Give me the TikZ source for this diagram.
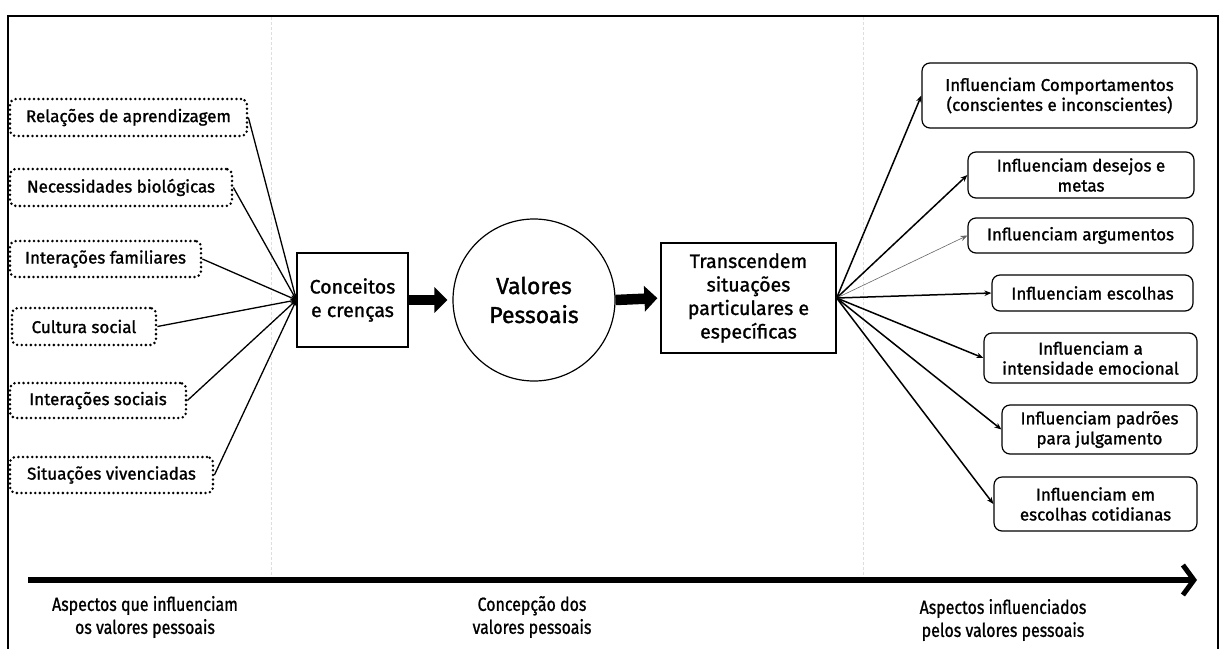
\documentclass[tikz,border=0pt]{standalone}
\usepackage{fontspec}
\setmainfont{Fira Sans}[FakeBold=1.3]
\newfontfamily\condfont{Fira Sans}[FakeStretch=0.84, FakeBold=1.0]
\usetikzlibrary{arrows.meta}

\tikzset{
  srcbox/.style={draw, line width=2.8pt, dash pattern=on 0pt off 4.6pt,
    line cap=round, rounded corners=6pt, inner sep=0pt, align=center,
    font=\fontsize{17}{20}\selectfont},
  midbox/.style={draw, line width=1.2pt, inner sep=0pt, align=center,
    font=\fontsize{19.5}{23.5}\selectfont},
  outbox/.style={draw, line width=1.2pt, rounded corners=8pt, inner sep=0pt,
    align=center, font=\fontsize{17}{20}\selectfont},
  feed/.style={line width=1.3pt, -{Stealth[length=6pt,width=5pt]}},
  fan/.style={line width=1.5pt, -{Stealth[length=7pt,width=5.5pt]}},
  fanthin/.style={line width=0.6pt, draw=gray!80!black, -{Stealth[length=7pt,width=5.5pt]}},
  blockarrow/.style={line width=10.5pt, -{Triangle[length=13pt,width=25pt]}},
  guide/.style={draw=black!13, line width=0.6pt, dash pattern=on 3pt off 2pt},
  axislabel/.style={align=center, font=\condfont\fontsize{19}{23}\selectfont},
}

\begin{document}
\begin{tikzpicture}[x=1pt, y=-1pt]
\useasboundingbox (0,0) rectangle (1222,648);

% frame and column guides
\coordinate (fTL) at (8,16);
\coordinate (fTR) at (1218,16);
\coordinate (fBL) at (8,660);
\coordinate (fBR) at (1218,660);
\draw[guide] (271,17) -- (271,575);
\draw[guide] (863,17) -- (863,575);
\draw[line width=2pt] (fBL) -- (fTL) -- (fTR) -- (fBR);

% sources
\node[srcbox, minimum width=237pt, minimum height=37pt] (s1) at (128.5,117.5) {Relações de aprendizagem};
\node[srcbox, minimum width=222pt, minimum height=37pt] (s2) at (121,187.5) {Necessidades biológicas};
\node[srcbox, minimum width=191pt, minimum height=36pt] (s3) at (105.5,259) {Interações familiares};
\node[srcbox, minimum width=144pt, minimum height=37pt] (s4) at (84,326.5) {Cultura social};
\node[srcbox, minimum width=176pt, minimum height=35pt] (s5) at (98,400.5) {Interações sociais};
\node[srcbox, minimum width=203pt, minimum height=36pt] (s6) at (111.5,475) {Situações vivenciadas};

% centre chain
\node[midbox, minimum width=111pt, minimum height=94pt] (cc) at (352.5,300) {Conceitos\\e crenças};
\node[draw, line width=1.2pt, circle, minimum size=162pt, inner sep=0pt, align=center,
      font=\fontsize{23}{29}\selectfont] (vp) at (534,300) {Valores\\Pessoais};
\node[midbox, minimum width=175pt, minimum height=110pt] (tr) at (748.5,298)
  {Transcendem\\situações\\particulares e\\específicas};

% effects
\node[outbox, minimum width=275pt, minimum height=65pt] (t1) at (1059.5,95.5) {Influenciam Comportamentos\\(conscientes e inconscientes)};
\node[outbox, minimum width=226pt, minimum height=46pt] (t2) at (1081,175) {Influenciam desejos e\\metas};
\node[outbox, minimum width=225pt, minimum height=35pt] (t3) at (1080.5,235.5) {Influenciam argumentos};
\node[outbox, minimum width=201pt, minimum height=36pt] (t4) at (1092.5,293) {Influenciam escolhas};
\node[outbox, minimum width=213pt, minimum height=50pt] (t5) at (1090.5,358) {Influenciam a\\intensidade emocional};
\node[outbox, minimum width=195pt, minimum height=49pt] (t6) at (1099.5,429.5) {Influenciam padrões\\para julgamento};
\node[outbox, minimum width=203pt, minimum height=54pt] (t7) at (1095.5,504) {Influenciam em\\escolhas cotidianas};

% connectors into the concepts box
\foreach \s in {s1,s2,s3,s4,s5,s6}
  \draw[feed] (\s.east) -- (cc.west);

% block arrows along the chain
\draw[blockarrow, shorten >=5pt] (cc.east) -- (vp.west);
\draw[blockarrow, shorten >=3pt] (vp.east) -- (tr.west);

% fan of effects
\draw[fan] (tr.east) -- (t1.west);
\draw[fan] (tr.east) -- (t2.west);
\draw[fanthin] (tr.east) -- (t3.west);
\draw[fan] (tr.east) -- (t4.west);
\draw[fan] (tr.east) -- (t5.west);
\draw[fan] (tr.east) -- (t6.west);
\draw[fan] (tr.east) -- (t7.west);

% time axis
\coordinate (axL) at (28,580);
\coordinate (axR) at (1197,580);
\draw[line width=6pt, -{Straight Barb[length=11pt,width=30pt,line width=5pt]}] (axL) -- (axR);

\node[axislabel] (l1) at (145,617) {Aspectos que influenciam\\os valores pessoais};
\node[axislabel] (l2) at (532,617) {Concepção dos\\valores pessoais};
\node[axislabel] (l3) at (1003,620) {Aspectos influenciados\\pelos valores pessoais};
\end{tikzpicture}
\end{document}
